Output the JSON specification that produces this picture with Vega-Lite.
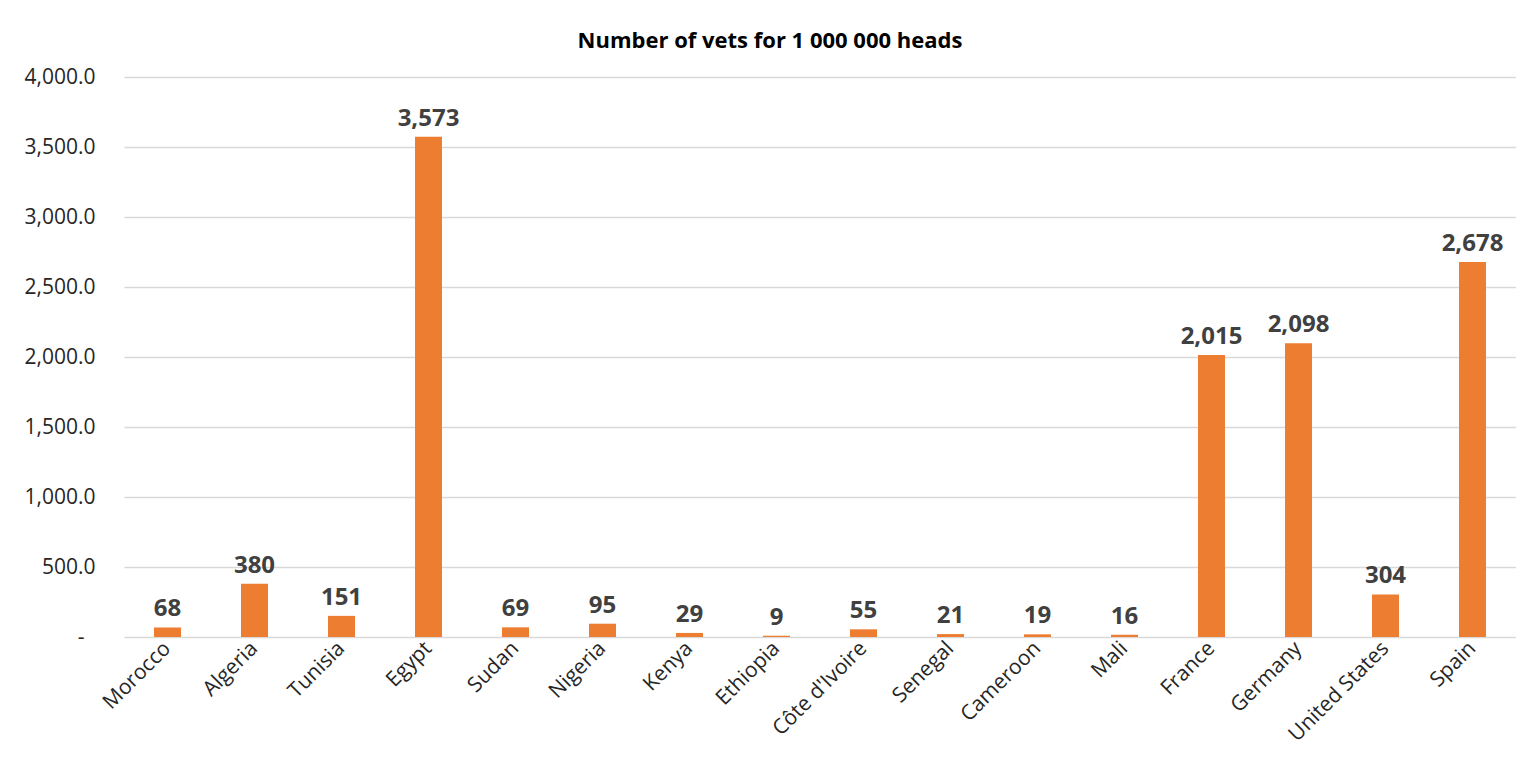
{
  "$schema": "https://vega.github.io/schema/vega-lite/v6.json",
  "autosize": "none",
  "width": 1392,
  "height": 560,
  "padding": {"left": 124, "top": 77, "right": 0, "bottom": 135},
  "background": "white",
  "config": {"view": {"stroke": null}, "font": "Open Sans"},
  "title": {
    "text": "Number of vets for 1 000 000 heads",
    "fontSize": 22,
    "fontWeight": "bold",
    "color": "#000000",
    "font": "Open Sans",
    "offset": 13,
    "dx": -50
  },
  "data": {
    "values": [
      {"country": "Morocco", "vets": 68},
      {"country": "Algeria", "vets": 380},
      {"country": "Tunisia", "vets": 151},
      {"country": "Egypt", "vets": 3573},
      {"country": "Sudan", "vets": 69},
      {"country": "Nigeria", "vets": 95},
      {"country": "Kenya", "vets": 29},
      {"country": "Ethiopia", "vets": 9},
      {"country": "Côte d'Ivoire", "vets": 55},
      {"country": "Senegal", "vets": 21},
      {"country": "Cameroon", "vets": 19},
      {"country": "Mali", "vets": 16},
      {"country": "France", "vets": 2015},
      {"country": "Germany", "vets": 2098},
      {"country": "United States", "vets": 304},
      {"country": "Spain", "vets": 2678}
    ]
  },
  "encoding": {
    "x": {
      "field": "country",
      "type": "nominal",
      "sort": null,
      "scale": {"paddingInner": 0.69, "paddingOuter": 0.345},
      "axis": {
        "title": null,
        "labelAngle": -45,
        "labelAlign": "right",
        "labelBaseline": "middle",
        "labelFontSize": 21,
        "labelColor": "#262626",
        "labelPadding": 8,
        "ticks": false,
        "domain": false,
        "grid": false
      }
    },
    "y": {
      "field": "vets",
      "type": "quantitative",
      "scale": {"domain": [0, 4000]},
      "axis": {
        "title": null,
        "values": [0, 500, 1000, 1500, 2000, 2500, 3000, 3500, 4000],
        "labelExpr": "datum.value == 0 ? '-' : format(datum.value, ',.1f')",
        "labelFontSize": 21,
        "labelColor": "#262626",
        "labelPadding": {"condition": {"test": "datum.value == 0", "value": 40}, "value": 29},
        "ticks": false,
        "domain": false,
        "grid": true,
        "gridColor": "#D9D9D9",
        "gridWidth": 1.3
      }
    }
  },
  "layer": [
    {"mark": {"type": "bar", "color": "#ED7D31"}},
    {
      "mark": {
        "type": "text",
        "baseline": "alphabetic",
        "dy": -11,
        "fontSize": 24,
        "fontWeight": "bold",
        "color": "#404040",
        "font": "Open Sans"
      },
      "encoding": {"text": {"field": "vets", "type": "quantitative", "format": ","}}
    }
  ]
}
